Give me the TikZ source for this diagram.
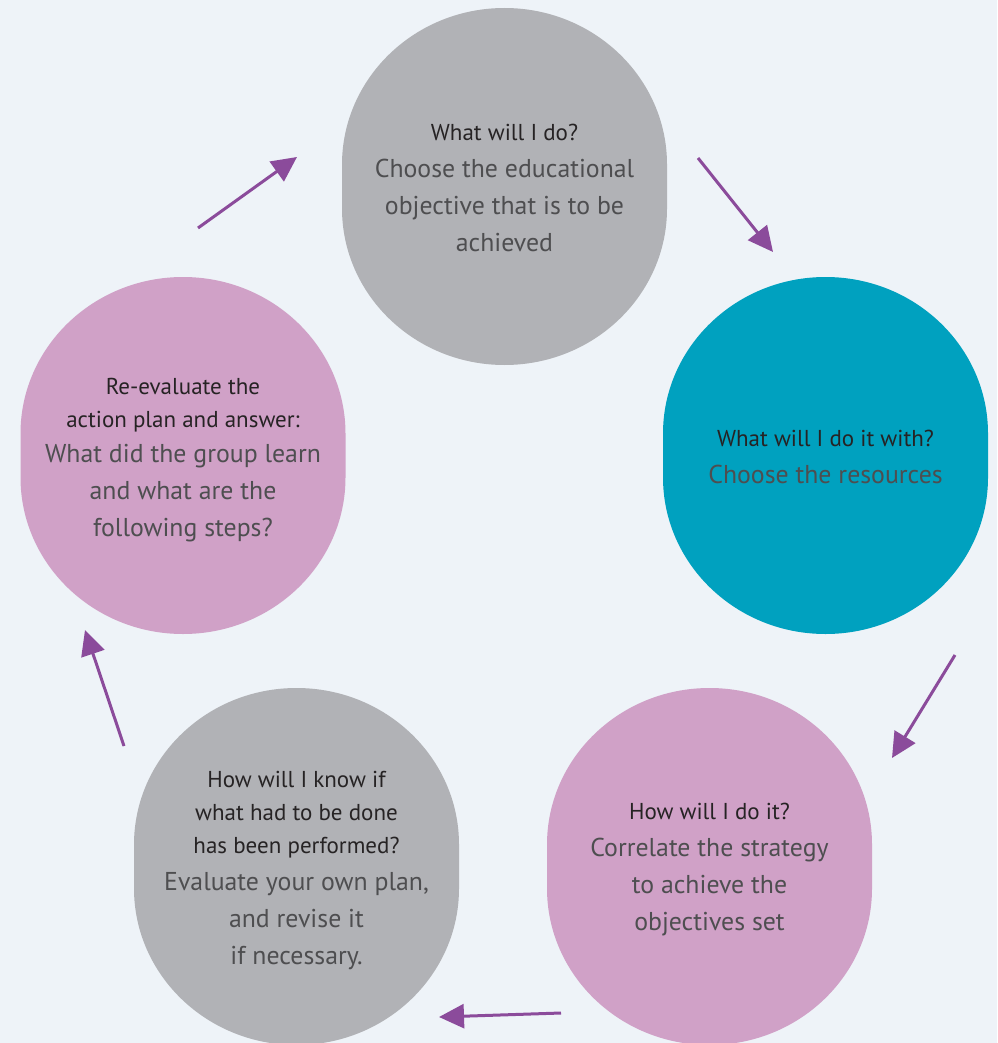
\documentclass[tikz,border=0pt]{standalone}
\usepackage{fontspec}
\setmainfont{PT Sans}
\usepackage{tikz}
\usetikzlibrary{arrows.meta, positioning}

\definecolor{bgblue}{HTML}{EEF3F8}
\definecolor{stagegray}{HTML}{B1B2B6}
\definecolor{stageteal}{HTML}{00A1BF}
\definecolor{stagepink}{HTML}{D0A1C7}
\definecolor{arrowpurple}{HTML}{8B4B9B}
\definecolor{headtext}{HTML}{262324}
\definecolor{bodytext}{HTML}{4E4E50}

\newcommand{\headfont}{\color{headtext}\fontsize{23}{33}\selectfont}
\newcommand{\bodyfont}{\color{bodytext}\fontsize{25.8}{37}\selectfont}

\tikzset{blob/.pic={
  \fill[pic actions] (-162.5,-22) -- (-162.5,22)
    .. controls (-162.5,108) and (-90,178.5) .. (0,178.5)
    .. controls (90,178.5) and (162.5,108) .. (162.5,22)
    -- (162.5,-22)
    .. controls (162.5,-108) and (90,-178.5) .. (0,-178.5)
    .. controls (-90,-178.5) and (-162.5,-108) .. cycle;}}

\begin{document}
\begin{tikzpicture}[x=1pt,y=-1pt,
 stage node/.style={align=center, font=\bodyfont},
 flow arrow/.style={draw=arrowpurple, line width=3pt,
   -{Triangle[length=25pt,width=24pt]}}]
  \fill[bgblue] (0,0) rectangle (997,1043);
  \useasboundingbox (0,0) rectangle (997,1043);
  \clip (0,0) rectangle (997,1043);

  % the five stages
  \pic[fill=stagegray] at (504.5,186.5) {blob};
  \pic[fill=stageteal] at (825.5,455.5) {blob};
  \pic[fill=stagepink] at (709.5,866.5) {blob};
  \pic[fill=stagegray] at (296.5,866.5) {blob};
  \pic[fill=stagepink] at (183,455.5) {blob};

  \node[stage node] (what) at (504.5,187.5)
    {{\headfont What will I do?}\\
     Choose the educational\\ objective that is to be\\ achieved};
  \node[stage node] (with) at (825.5,456.5)
    {{\headfont What will I do it with?}\\ Choose the resources};
  \node[stage node] (how) at (709.5,870)
    {{\headfont How will I do it?}\\
     Correlate the strategy\\ to achieve the\\ objectives set};
  \node[stage node] (know) at (296.5,870.5)
    {{\headfont How will I know if}\\[-4pt]
     {\headfont what had to be done}\\[-4pt]
     {\headfont has been performed?}\\
     Evaluate your own plan,\\ and revise it\\ if necessary.};
  \node[stage node] (review) at (183,460)
    {{\headfont Re-evaluate the}\\[-4pt]
     {\headfont action plan and answer:}\\[-2pt]
     What did the group learn\\ and what are the\\ following steps?};

  % arrow ends
  \coordinate (review-out) at ([shift={(15,-232)}]review.center);
  \coordinate (what-in)    at ([shift={(-207.5,-30.5)}]what.center);
  \coordinate (what-out)   at ([shift={(193.5,-29.5)}]what.center);
  \coordinate (with-in)    at ([shift={(-52.5,-204.5)}]with.center);
  \coordinate (with-out)   at ([shift={(129.5,198.5)}]with.center);
  \coordinate (how-in)     at ([shift={(182.5,-112)}]how.center);
  \coordinate (how-out)    at ([shift={(-148.5,143)}]how.center);
  \coordinate (know-in)    at ([shift={(142.5,146.5)}]know.center);
  \coordinate (know-out)   at ([shift={(-172.5,-124.5)}]know.center);
  \coordinate (review-in)  at ([shift={(-98,170)}]review.center);

  \foreach \s/\t in {review/what, what/with, with/how, how/know, know/review} {
   \path[flow arrow] (\s-out) -- (\t-in);}
\end{tikzpicture}
\end{document}
